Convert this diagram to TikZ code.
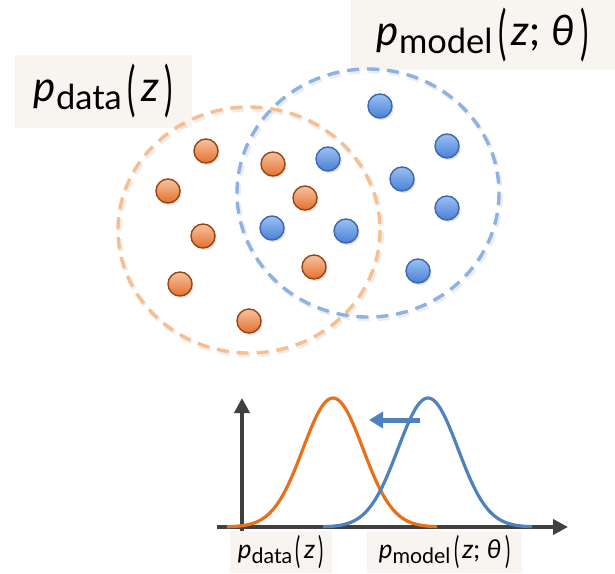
\documentclass[tikz,border=0pt]{standalone}
\usepackage{fontspec}
\setmainfont{Lato}
\usepackage{graphicx}
\usetikzlibrary{arrows.meta,shadows,positioning}
\definecolor{labelbg}{HTML}{F8F4F0}
\definecolor{dataring}{HTML}{F9BE8E}
\definecolor{modelring}{HTML}{8DB2E2}
\definecolor{datatop}{HTML}{F6C3A0}
\definecolor{databot}{HTML}{E4702E}
\definecolor{dataedge}{HTML}{9A4510}
\definecolor{modeltop}{HTML}{9CC0F2}
\definecolor{modelbot}{HTML}{4A80D6}
\definecolor{modeledge}{HTML}{3A69B0}
\definecolor{datacurve}{HTML}{E8701C}
\definecolor{modelcurve}{HTML}{4F81BD}
\definecolor{axisgray}{HTML}{404040}
\newcommand{\tallparen}[1]{\raisebox{-0.2em}{\scalebox{0.75}[1.4]{#1}}}
\newcommand{\distname}[2]{\textit{p}\raisebox{-0.2em}{\scalebox{0.82}{#1}}\hspace{0.14em}\tallparen{(}\hspace{0.12em}#2\hspace{0.14em}\tallparen{)}}
\tikzset{
  labelbox/.style ={fill=labelbg,inner sep=0pt,align=center},
  ring/.style     ={line width=1.7pt,dash pattern=on 6pt off 4pt},
  ringshade/.style={ring,line width=2.4pt,draw=black,opacity=0.07},
  dot/.style      ={circle,line width=0.7pt,minimum size=12pt,inner sep=0pt,
                    drop shadow={opacity=0.25,shadow xshift=0.8pt,shadow yshift=-1pt}},
  datadot/.style  ={dot,draw=dataedge,top color=datatop,bottom color=databot},
  modeldot/.style ={dot,draw=modeledge,top color=modeltop,bottom color=modelbot},
  axis/.style     ={draw=axisgray,line width=2pt,-{Triangle[length=7.5pt,width=7.5pt]}},
  curve/.style    ={line width=1.6pt}
}
\begin{document}
\begin{tikzpicture}[x=0.5pt,y=-0.5pt]
  \useasboundingbox (0,0) rectangle (615,573);
  % labels above the point clouds
  \node[labelbox,minimum width=88.5pt,minimum height=36.5pt,font=\fontsize{21}{24}\selectfont] (datalabel) at (103.5,91.5) {\distname{data}{\textit{z}}};
  \node[labelbox,minimum width=132pt,minimum height=35pt,font=\fontsize{21}{24}\selectfont] (modellabel) at (483,35) {\distname{model}{\textit{z}; \textit{θ}}};

  % dashed rings
  \draw[ringshade] (250.5,232) ellipse [x radius=131, y radius=123];
  \draw[ring,draw=dataring] (249,230) ellipse [x radius=131, y radius=123];
  \draw[ringshade] (369.5,195) ellipse [x radius=131, y radius=124];
  \draw[ring,draw=modelring] (368,193) ellipse [x radius=131, y radius=124];

  % samples
  \foreach \px/\py [count=\i] in {206/151,168/191,273/164,305/198,203/236,180/284,314/267,249/321}
    \node[datadot] (data\i) at (\px,\py) {};
  \foreach \px/\py [count=\i] in {380/106,447/146,328/159,402/179,447/208,272/228,346/231,418/271}
    \node[modeldot] (model\i) at (\px,\py) {};

  % density plot
  \coordinate (xstart) at (217,527);
  \coordinate (xend)   at (568,527);
  \coordinate (ystart) at (242,537);
  \coordinate (yend)   at (242,398);
  \draw[axis] (xstart) -- (xend);
  \draw[axis] (ystart) -- (yend);
  \draw[curve,datacurve]  plot[domain=227:437,samples=90,smooth] (\x,{527-129*exp(-((\x-333)^2)/1800)});
  \draw[curve,modelcurve] plot[domain=323:532,samples=90,smooth] (\x,{527-129*exp(-((\x-428)^2)/1800)});
  \coordinate (shiftfrom) at (420,420);
  \coordinate (shiftto)   at (369,420);
  \draw[modelcurve,line width=2.5pt,-{Triangle[length=7pt,width=8pt]}] (shiftfrom) -- (shiftto);

  % axis labels
  \node[labelbox,minimum width=51pt,minimum height=21pt,font=\fontsize{13}{15}\selectfont] (datatick) at (281,552) {\distname{data}{\textit{z}}};
  \node[labelbox,minimum width=77.5pt,minimum height=21pt,font=\fontsize{13}{15}\selectfont] (modeltick) at (444.5,552) {\distname{model}{\textit{z}; \textit{θ}}};
\end{tikzpicture}
\end{document}
